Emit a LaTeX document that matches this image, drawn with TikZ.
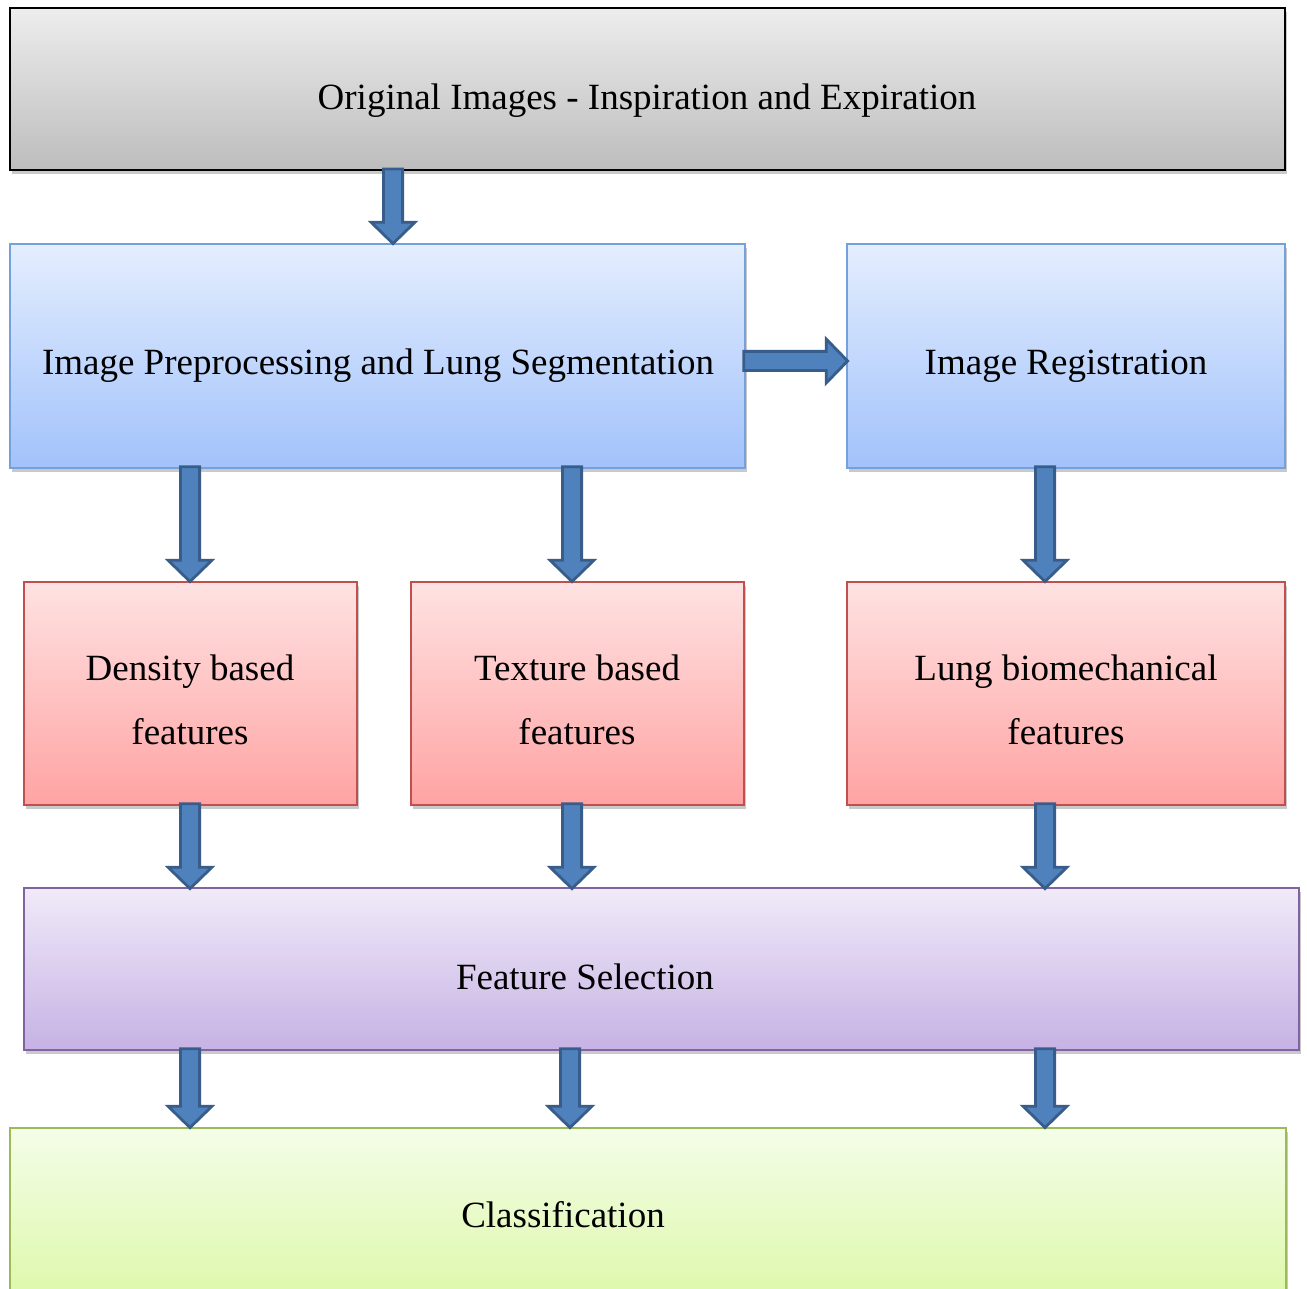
\documentclass[tikz,border=0pt]{standalone}
\usepackage{fontspec}
\setmainfont{Liberation Serif}
\usetikzlibrary{calc,fit,shadows}
\definecolor{grayT}{HTML}{EDEDED}\definecolor{grayB}{HTML}{BDBDBD}
\definecolor{blueT}{HTML}{E4EEFE}\definecolor{blueB}{HTML}{A2C2FB}\definecolor{blueD}{HTML}{76A0DC}
\definecolor{redT}{HTML}{FFE2E2}\definecolor{redB}{HTML}{FFA3A3}\definecolor{redD}{HTML}{C0504D}
\definecolor{purT}{HTML}{F0EAF9}\definecolor{purB}{HTML}{C6B2E4}\definecolor{purD}{HTML}{8064A2}
\definecolor{grnT}{HTML}{F4FDE8}\definecolor{grnB}{HTML}{DCF8A6}\definecolor{grnD}{HTML}{9BBB59}
\definecolor{arrF}{HTML}{4F81BD}\definecolor{arrD}{HTML}{385D8A}
\tikzset{
  x=0.5pt, y=-0.5pt,
  box/.style={inner sep=0pt, shading=axis, shading angle=0, line width=0.8pt,
    drop shadow={shadow xshift=1.2pt, shadow yshift=-1.8pt, opacity=0.35, fill=black!60}},
  graybox/.style={box, draw=black, top color=grayT, bottom color=grayB, line width=1pt},
  bluebox/.style={box, draw=blueD, top color=blueT, bottom color=blueB},
  redbox/.style={box, draw=redD, top color=redT, bottom color=redB},
  purbox/.style={box, draw=purD, top color=purT, bottom color=purB},
  grnbox/.style={box, draw=grnD, top color=grnT, bottom color=grnB},
  boxtext/.style={font=\fontsize{18.5}{32}\selectfont, inner sep=0pt, align=center},
  blockarrow/.style={fill=arrF, draw=arrD, line width=1.4pt, line join=miter,
    to path={
      ($(\tikztostart)!4.8pt!90:(\tikztotarget)$) --
      ($(\tikztotarget)!11.5pt!(\tikztostart)!4.8pt!90:(\tikztotarget)$) --
      ($(\tikztotarget)!11.5pt!(\tikztostart)!11pt!90:(\tikztotarget)$) --
      ($(\tikztotarget)!0.8pt!(\tikztostart)$) --
      ($(\tikztotarget)!11.5pt!(\tikztostart)!11pt!-90:(\tikztotarget)$) --
      ($(\tikztotarget)!11.5pt!(\tikztostart)!4.8pt!-90:(\tikztotarget)$) --
      ($(\tikztostart)!4.8pt!-90:(\tikztotarget)$) -- cycle}}
}
\begin{document}
\begin{tikzpicture}
\useasboundingbox (0,0) rectangle (1307,1289);
\fill[white] (0,0) rectangle (1307,1289);

\node[graybox, fit={(10,8)(1285,170)}] (orig) {};
\node[bluebox, fit={(10,244)(745,468)}] (pre) {};
\node[bluebox, fit={(847,244)(1285,468)}] (reg) {};
\node[redbox, fit={(24,582)(357,805)}] (dens) {};
\node[redbox, fit={(411,582)(744,805)}] (text) {};
\node[redbox, fit={(847,582)(1285,805)}] (lung) {};
\node[purbox, fit={(24,888)(1299,1050)}] (fsel) {};
\node[grnbox, fit={(10,1128)(1286,1310)}] (cls) {};

\node[boxtext] (origtext) at (647,101) {Original Images - Inspiration and Expiration};
\node[boxtext] (pretext) at (378,366) {Image Preprocessing and Lung Segmentation};
\node[boxtext] (regtext) at (1066,366) {Image Registration};
\node[boxtext] (denstext) at (190,700) {Density based\\features};
\node[boxtext] (texttext) at (577,700) {Texture based\\features};
\node[boxtext] (lungtext) at (1066,700) {Lung biomechanical\\features};
\node[boxtext] (fseltext) at (585,977) {Feature Selection};
\node[boxtext] (clstext) at (563,1215) {Classification};

\coordinate (c0) at (393,0);
\coordinate (c1) at (190,0);
\coordinate (c2) at (572,0);
\coordinate (c3) at (1045,0);
\coordinate (c2b) at (570,0);
\coordinate (r1) at (0,361);

\path[blockarrow] ($(orig.south -| c0)+(0,-2)$) to ($(pre.north -| c0)+(0,2)$);
\path[blockarrow] ($(pre.east |- r1)+(-2,0)$) to ($(reg.west |- r1)+(3,0)$);
\path[blockarrow] ($(pre.south -| c1)+(0,-2)$) to ($(dens.north -| c1)+(0,2)$);
\path[blockarrow] ($(pre.south -| c2)+(0,-2)$) to ($(text.north -| c2)+(0,2)$);
\path[blockarrow] ($(reg.south -| c3)+(0,-2)$) to ($(lung.north -| c3)+(0,2)$);
\path[blockarrow] ($(dens.south -| c1)+(0,-2)$) to ($(fsel.north -| c1)+(0,3)$);
\path[blockarrow] ($(text.south -| c2)+(0,-2)$) to ($(fsel.north -| c2)+(0,3)$);
\path[blockarrow] ($(lung.south -| c3)+(0,-2)$) to ($(fsel.north -| c3)+(0,3)$);
\path[blockarrow] ($(fsel.south -| c1)+(0,-2)$) to ($(cls.north -| c1)+(0,2)$);
\path[blockarrow] ($(fsel.south -| c2b)+(0,-2)$) to ($(cls.north -| c2b)+(0,2)$);
\path[blockarrow] ($(fsel.south -| c3)+(0,-2)$) to ($(cls.north -| c3)+(0,2)$);
\end{tikzpicture}
\end{document}
